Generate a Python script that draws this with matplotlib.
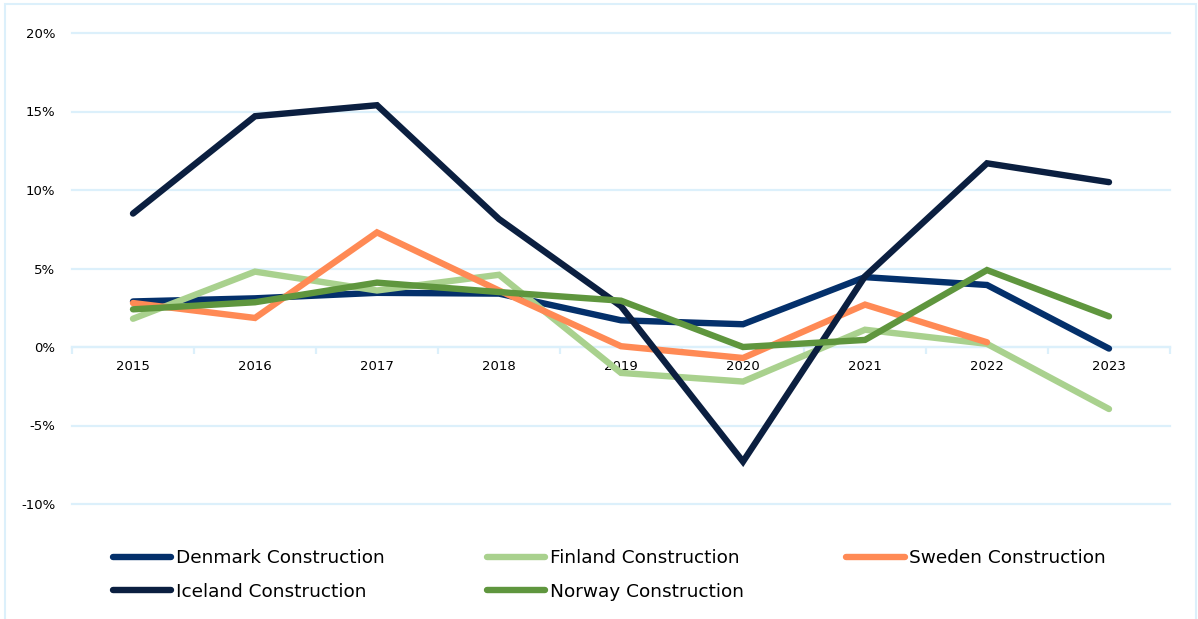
import matplotlib
matplotlib.use("Agg")
import matplotlib.pyplot as plt
from matplotlib.patches import Rectangle
from matplotlib.ticker import FuncFormatter, MultipleLocator

# annual change in construction, percent
years = [2015, 2016, 2017, 2018, 2019, 2020, 2021, 2022, 2023]
denmark = [2.9, 3.1, 3.45, 3.4, 1.7, 1.45, 4.45, 3.95, -0.1]
finland = [1.8, 4.8, 3.6, 4.6, -1.65, -2.2, 1.1, 0.2, -3.95]
sweden = [2.8, 1.85, 7.3, 3.6, 0.05, -0.7, 2.7, 0.3, None]
iceland = [8.5, 14.7, 15.4, 8.15, 2.6, -7.3, 4.5, 11.7, 10.5]
norway = [2.4, 2.85, 4.1, 3.5, 2.95, 0.0, 0.45, 4.9, 1.95]

series = [
    ("Denmark Construction", denmark, "#04306b"),
    ("Finland Construction", finland, "#a9d18e"),
    ("Sweden Construction", sweden, "#ff8a55"),
    ("Iceland Construction", iceland, "#0b1f40"),
    ("Norway Construction", norway, "#5f963e"),
]

grid_col = "#dcf0fb"

fig = plt.figure(figsize=(11.98, 6.19), dpi=100)
ax = fig.add_axes([72 / 1198, 1 - 504 / 619, (1170 - 72) / 1198, (504 - 33) / 619])

xs = list(range(len(years)))
lines = {}
for name, vals, col in series:
    px = [x for x, v in zip(xs, vals) if v is not None]
    py = [v for v in vals if v is not None]
    ln, = ax.plot(px, py, color=col, lw=4.6, solid_capstyle="round",
                  solid_joinstyle="miter", label=name, zorder=3)
    lines[name] = ln

ax.set_xlim(-0.5, len(years) - 0.5)
ax.set_ylim(-10, 20)
ax.yaxis.set_major_locator(MultipleLocator(5))
ax.yaxis.set_major_formatter(FuncFormatter(lambda v, p: f"{v:.0f}%"))
ax.grid(axis="y", color=grid_col, lw=1.6, zorder=0)
for gl in ax.get_ygridlines():
    gl.set_clip_on(False)

ax.set_xticks(xs)
ax.set_xticklabels([str(y) for y in years])
ax.set_xticks([x + 0.5 for x in [-1] + xs], minor=True)
ax.tick_params(axis="x", which="major", length=0, pad=9, labelsize=9.5, colors="#000000")
ax.tick_params(axis="x", which="minor", length=5, width=1.6, color=grid_col, direction="out")
ax.tick_params(axis="y", length=0, pad=12, labelsize=9.5)

for s in ["top", "right", "left"]:
    ax.spines[s].set_visible(False)
ax.spines["bottom"].set_position(("data", 0))
ax.spines["bottom"].set_color(grid_col)
ax.spines["bottom"].set_linewidth(1.6)
ax.spines["bottom"].set_zorder(1)

order = ["Denmark Construction", "Iceland Construction", "Finland Construction",
         "Norway Construction", "Sweden Construction"]
fig.legend([lines[n] for n in order], order, ncol=3, frameon=False,
           loc="upper left", bbox_to_anchor=(113 / 1198, 1 - 549 / 619),
           fontsize=13.3, handlelength=3.15, handletextpad=0.25,
           columnspacing=5.55, labelspacing=0.85, borderaxespad=0, borderpad=0)

fig.patches.append(Rectangle((5 / 1198, -0.05), 1191 / 1198, 1.05 - 4 / 619,
                             transform=fig.transFigure, fill=False,
                             edgecolor=grid_col, lw=1.5))

fig.savefig("out.png", dpi=100)
